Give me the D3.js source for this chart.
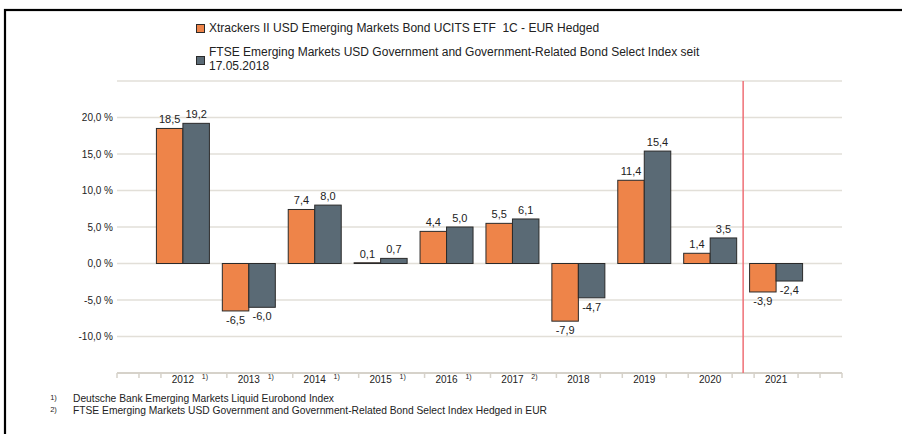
<!DOCTYPE html>
<html>
<head>
<meta charset="utf-8">
<script src="https://cdn.jsdelivr.net/npm/d3@7"></script>
<style>
  html, body { margin: 0; padding: 0; background: #fff; }
  svg { display: block; font-family: "Liberation Sans", Arial, Helvetica, sans-serif; }
  text { white-space: pre; }
</style>
</head>
<body>
<svg id="chart" width="902" height="434"></svg>
<script>
const categories = ["2012","2013","2014","2015","2016","2017","2018","2019","2020","2021"];
const footMarks  = ["1)","1)","1)","1)","1)","2)","","","",""];
const etfValues   = [18.5, -6.5, 7.4, 0.1, 4.4, 5.5, -7.9, 11.4, 1.4, -3.9];
const indexValues = [19.2, -6.0, 8.0, 0.7, 5.0, 6.1, -4.7, 15.4, 3.5, -2.4];
const yTicks = [-10, -5, 0, 5, 10, 15, 20];
const gridValues = [-10, -5, 0, 5, 10, 15, 20, 25];
const seriesNames = [
  ["Xtrackers II USD Emerging Markets Bond UCITS ETF  1C - EUR Hedged"],
  ["FTSE Emerging Markets USD Government and Government-Related Bond Select Index seit", "17.05.2018"]
];
const footnotes = [
  ["1)", "Deutsche Bank Emerging Markets Liquid Eurobond Index"],
  ["2)", "FTSE Emerging Markets USD Government and Government-Related Bond Select Index Hedged in EUR"]
];
const colors = ["#ee8449", "#5a6a75"];
const markerIndex = 8.5; // between 2020 and 2021

const fmt = v => d3.format(".1f")(v).replace(".", ",").replace("\u2212", "-");

const svg = d3.select("#chart");

// frame (top and left visible)
svg.append("rect").attr("x", 5).attr("y", 10).attr("width", 1000).attr("height", 1000)
  .attr("fill", "none").attr("stroke", "#000").attr("stroke-width", 2.2);

const x = d3.scaleLinear().domain([-1, categories.length]).range([117, 842]);
const step = x(1) - x(0);
const y = d3.scaleLinear().domain([-15, 25]).range([373, 81]);
const barW = step * 0.402;

// gridlines
svg.append("g").selectAll("line").data(gridValues).join("line")
  .attr("x1", x(-1)).attr("x2", x(categories.length))
  .attr("y1", d => y(d)).attr("y2", d => y(d))
  .attr("stroke", "#e2dfd8").attr("stroke-width", 1.5);

// y labels
svg.append("g").selectAll("text").data(yTicks).join("text")
  .attr("x", 113).attr("y", d => y(d)).attr("dy", "0.35em")
  .attr("text-anchor", "end").attr("font-size", 10).attr("fill", "#222")
  .text(d => fmt(d) + " %");

// x axis
const axisY = y(-15);
svg.append("line").attr("x1", x(-1)).attr("x2", x(categories.length))
  .attr("y1", axisY).attr("y2", axisY).attr("stroke", "#d6d2ca").attr("stroke-width", 2);
const tickPos = d3.range(0, 3 * (categories.length + 1) + 1).filter(k => {
  const ci = Math.floor(k / 3) - 1, r = k % 3;
  if (r === 0 && ci >= 0 && ci < categories.length) return false;
  if (r === 1 && ci >= 0 && ci < categories.length && footMarks[ci]) return false;
  return true;
});
svg.append("g").selectAll("line").data(tickPos).join("line")
  .attr("x1", k => x(-1 + k / 3)).attr("x2", k => x(-1 + k / 3))
  .attr("y1", axisY).attr("y2", axisY + 5)
  .attr("stroke", "#d6d2ca").attr("stroke-width", 1.5);

const xl = svg.append("g");
xl.selectAll("text.cat").data(categories).join("text").attr("class", "cat")
  .attr("x", (d, i) => x(i)).attr("y", axisY + 2.5).attr("dy", "0.71em")
  .attr("text-anchor", "middle").attr("font-size", 10).attr("fill", "#222").text(d => d);
xl.selectAll("text.fm").data(footMarks).join("text").attr("class", "fm")
  .attr("x", (d, i) => x(i) + 22).attr("y", axisY + 1.5).attr("dy", "0.71em")
  .attr("text-anchor", "middle").attr("font-size", 7).attr("fill", "#222").text(d => d);

// bars
const series = [etfValues, indexValues];
series.forEach((vals, s) => {
  const g = svg.append("g");
  g.selectAll("rect").data(vals).join("rect")
    .attr("x", (d, i) => x(i) - barW + s * barW)
    .attr("y", d => y(Math.max(0, d)))
    .attr("width", barW)
    .attr("height", d => Math.abs(y(d) - y(0)))
    .attr("fill", colors[s]).attr("stroke", "#2a2a2a").attr("stroke-width", 1);
  g.selectAll("text").data(vals).join("text")
    .attr("x", (d, i) => x(i) - barW / 2 + s * barW)
    .attr("y", d => d >= 0 ? y(d) - 5 : y(d) + 5)
    .attr("dy", d => d >= 0 ? "0em" : "0.71em")
    .attr("text-anchor", "middle").attr("font-size", 11).attr("fill", "#222")
    .text(d => fmt(d));
});

// marker line
svg.append("line").attr("x1", x(markerIndex)).attr("x2", x(markerIndex))
  .attr("y1", y(25)).attr("y2", axisY)
  .attr("stroke", "#ef6f75").attr("stroke-width", 1.5);

// legend
const legY = [28, 59];
seriesNames.forEach((lines, s) => {
  svg.append("rect").attr("x", 196.5).attr("y", s === 0 ? 24.5 : 56.5)
    .attr("width", 8).attr("height", 8)
    .attr("fill", colors[s]).attr("stroke", "#2a2a2a").attr("stroke-width", 1);
  const t = svg.append("text").attr("x", 209).attr("font-size", 12).attr("fill", "#222");
  lines.forEach((ln, j) => {
    t.append("tspan").attr("x", 209)
      .attr("y", (lines.length === 1 ? legY[s] : legY[s] - 7 + j * 14))
      .attr("dy", "0.35em").text(ln);
  });
});

// footnotes
footnotes.forEach((f, i) => {
  const yy = 398.5 + i * 12;
  svg.append("text").attr("x", 53.5).attr("y", yy).attr("dy", "0.2em")
    .attr("font-size", 7.5).attr("text-anchor", "middle").attr("fill", "#222").text(f[0]);
  svg.append("text").attr("x", 73).attr("y", yy).attr("dy", "0.35em")
    .attr("font-size", 10.25).attr("fill", "#222").text(f[1]);
});
</script>
</body>
</html>
